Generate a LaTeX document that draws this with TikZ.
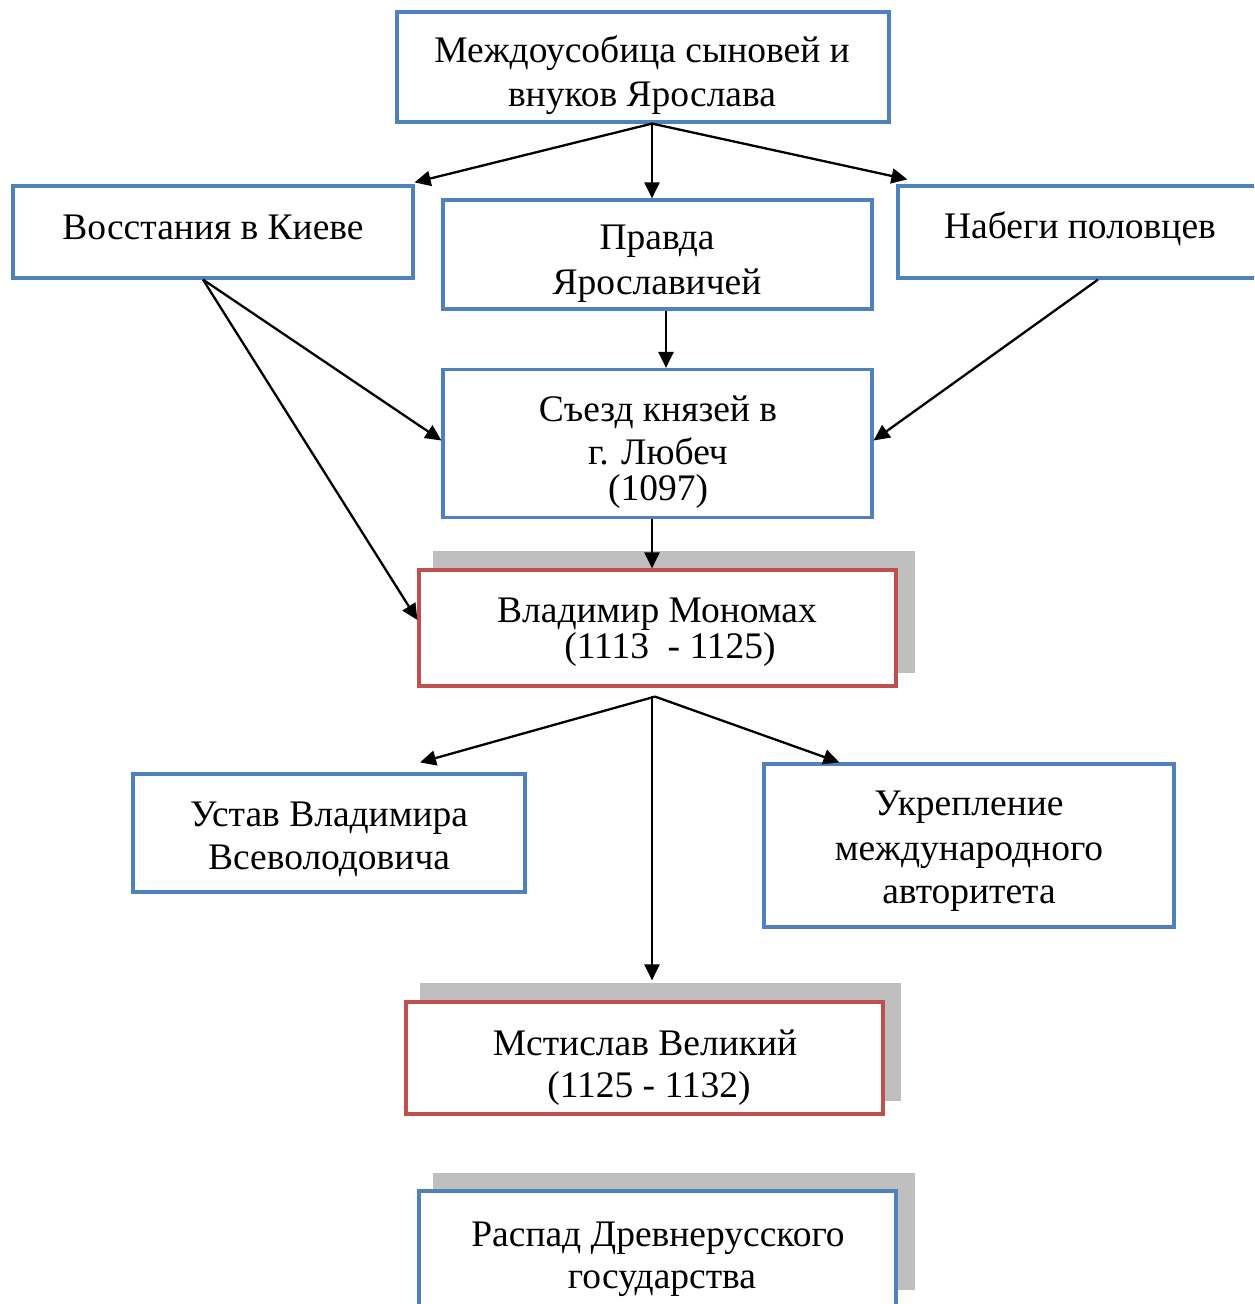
\documentclass[tikz,border=0pt]{standalone}
\usepackage{fontspec}
\setmainfont{Liberation Serif}
\usetikzlibrary{arrows.meta,calc}
\definecolor{boxblue}{HTML}{4F81BD}
\definecolor{boxred}{HTML}{C0504D}
\definecolor{shadowgray}{HTML}{BFBFBF}
\tikzset{
  bluebox/.style={draw=boxblue,line width=1.6pt,fill=white,inner sep=0pt},
  redbox/.style={draw=boxred,line width=1.6pt,fill=white,inner sep=0pt},
  shadowbox/.style={fill=shadowgray,draw=none,inner sep=0pt},
  txt/.style={anchor=base,inner sep=0pt,font=\fontsize{18.75pt}{21.5pt}\selectfont},
  arr/.style={line width=1.15pt,-{Triangle[length=8pt,width=7.5pt]}}
}
\begin{document}
\begin{tikzpicture}[x=0.5pt,y=-0.5pt]
\useasboundingbox (0,0) rectangle (1254,1304);
\clip (0,0) rectangle (1254,1304);

% shadows
\node[shadowbox,minimum width=241pt,minimum height=61pt] (sh6) at (674,612) {};
\node[shadowbox,minimum width=240.5pt,minimum height=59pt] (sh9) at (660.5,1042) {};
\node[shadowbox,minimum width=241pt,minimum height=58.5pt] (sh10) at (674,1231.5) {};

% boxes
\node[bluebox,minimum width=246pt,minimum height=55pt] (b1) at (643,67) {};
\node[bluebox,minimum width=200pt,minimum height=46pt] (b2) at (213,232) {};
\node[bluebox,minimum width=214.5pt,minimum height=54.5pt] (b3) at (657.5,254.5) {};
\node[bluebox,minimum width=182pt,minimum height=46pt] (b4) at (1080,232) {};
\node[bluebox,minimum width=214.5pt,minimum height=74pt] (b5) at (657.5,443.5) {};
\node[redbox,minimum width=238.5pt,minimum height=58pt] (b6) at (657.5,628) {};
\node[bluebox,minimum width=196pt,minimum height=59pt] (b7) at (329,833) {};
\node[bluebox,minimum width=205pt,minimum height=81.5pt] (b8) at (969,845.5) {};
\node[redbox,minimum width=238.5pt,minimum height=56pt] (b9) at (644.5,1058) {};
\node[bluebox,minimum width=238.5pt,minimum height=57.5pt] (b10) at (657.5,1248.5) {};

% texts
\node[txt] (t1a) at (642,63) {Междоусобица сыновей и};
\node[txt] (t1b) at (642,107) {внуков Ярослава};
\node[txt] (t2) at (213,240) {Восстания в Киеве};
\node[txt] (t3a) at (657,250) {Правда};
\node[txt] (t3b) at (657,295) {Ярославичей};
\node[txt] (t4) at (1080,239) {Набеги половцев};
\node[txt] (t5a) at (658,422) {Съезд князей в};
\node[txt] (t5b) at (658,464) {г. Любеч};
\node[txt] (t5c) at (658,500) {(1097)};
\node[txt] (t6a) at (657,622) {Владимир Мономах};
\node[txt] (t6b) at (670,658) {(1113\ \ - 1125)};
\node[txt] (t7a) at (329,826) {Устав Владимира};
\node[txt] (t7b) at (329,869) {Всеволодовича};
\node[txt] (t8a) at (969,815) {Укрепление};
\node[txt] (t8b) at (969,860) {международного};
\node[txt] (t8c) at (969,903) {авторитета};
\node[txt] (t9a) at (645,1055) {Мстислав Великий};
\node[txt] (t9b) at (649,1097) {(1125 - 1132)};
\node[txt] (t10a) at (658,1246) {Распад Древнерусского};
\node[txt] (t10b) at (662,1288) {государства};

% connector start points
\coordinate (s1) at ($(b1.south)+(9,0)$);
\coordinate (s3) at ($(b3.south)+(8.5,0)$);
\coordinate (s2) at ($(b2.south)+(-10,0)$);
\coordinate (s4) at ($(b4.south)+(18,0)$);
\coordinate (s5) at ($(b5.south)+(-5.5,0)$);
\coordinate (s6) at ($(b6.south)+(-2.5,9)$);
\coordinate (s6v) at ($(b6.south)+(-5.5,8)$);

% connectors
\draw[arr] (s1) -- ($(b2.north east)+(0,-2)$);
\draw[arr] (s1) -- (s1 |- b3.north);
\draw[arr] (s1) -- ($(b4.north west)+(11,-5)$);
\draw[arr] (s3) -- (s3 |- b5.north);
\draw[arr] (s2) -- ($(b5.west)+(0,-3)$);
\draw[arr] (s2) -- ($(b6.west)+(0,-8)$);
\draw[arr] (s4) -- ($(b5.east)+(0,-3)$);
\draw[arr] (s5) -- (s5 |- b6.north);
\draw[arr] (s6) -- ($(b7.north)+(91,-10)$);
\draw[arr] (s6) -- ($(b8.north west)+(77,0)$);
\draw[arr] (s6v) -- ($(b9.north)+(7.5,-20)$);
\end{tikzpicture}
\end{document}
